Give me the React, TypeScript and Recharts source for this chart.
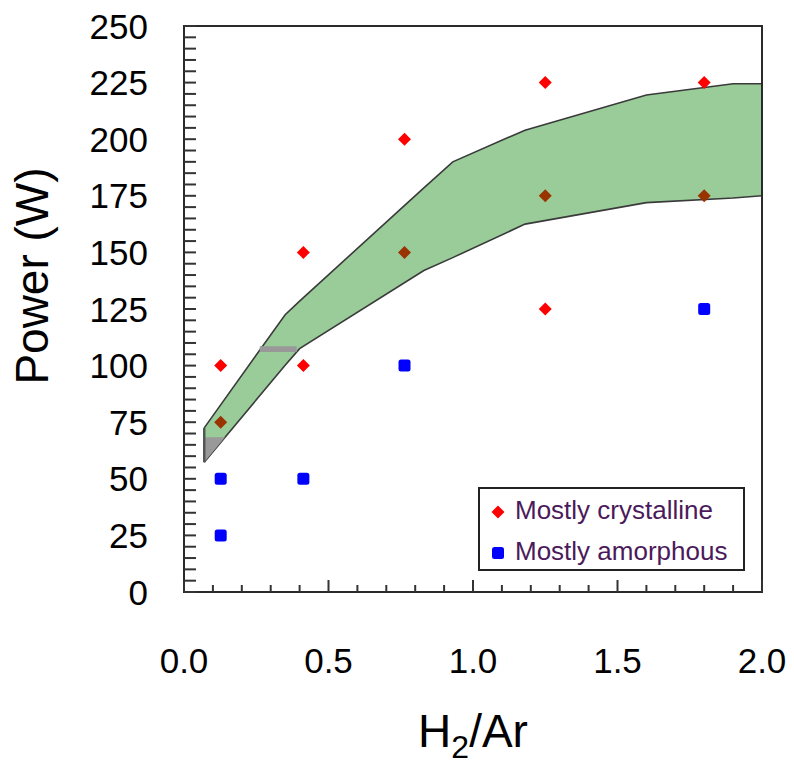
import {
  ComposedChart,
  Area,
  Scatter,
  XAxis,
  YAxis,
  ReferenceArea,
  ReferenceLine,
  Legend,
} from "recharts";

const FONT = "'Liberation Sans', Arial, sans-serif";

// process window (band)
const bandX = [0.07, 0.35, 0.4, 0.83, 0.93, 1.18, 1.6, 1.9, 2.0];
const bandHigh = [72.5, 122.5, 128.5, 178.5, 190, 204, 219.5, 224.5, 224.5];
const bandLow = [57.3, 100.2, 107.5, 142, 147.7, 162.5, 172, 174, 175];

// small grey patches inside the band (drawing artefacts in the original)
const patchLeftX = [0.07, 0.142];
const patchLeftLow = [57.3, 68.3];
const patchLeftHigh = [68.3, 68.3];
const stripeX = [0.262, 0.39];
const stripeLow = [106, 106];
const stripeHigh = [108.6, 108.6];

// measurements
const crystalline = [
  { x: 0.127, y: 100 },
  { x: 0.413, y: 150 },
  { x: 0.413, y: 100 },
  { x: 0.763, y: 200 },
  { x: 1.25, y: 225 },
  { x: 1.25, y: 125 },
  { x: 1.8, y: 225 },
];
const crystallineInBand = [
  { x: 0.127, y: 75 },
  { x: 0.763, y: 150 },
  { x: 1.25, y: 175 },
  { x: 1.8, y: 175 },
];
const amorphous = [
  { x: 0.127, y: 50 },
  { x: 0.127, y: 25 },
  { x: 0.413, y: 50 },
  { x: 0.763, y: 100 },
  { x: 1.8, y: 125 },
];

const xTicks = [
  0, 0.1, 0.2, 0.3, 0.4, 0.5, 0.6, 0.7, 0.8, 0.9, 1.0, 1.1, 1.2, 1.3, 1.4,
  1.5, 1.6, 1.7, 1.8, 1.9, 2.0,
];
const xLabels = ["0.0", "0.5", "1.0", "1.5", "2.0"];
const yLabels = [0, 25, 50, 75, 100, 125, 150, 175, 200, 225, 250];
const yTicks = Array.from({ length: 51 }, (_, i) => i * 5);

const bandData = bandX.map((x, i) => ({ x, range: [bandLow[i], bandHigh[i]] }));
const patchLeftData = patchLeftX.map((x, i) => ({
  x,
  range: [patchLeftLow[i], patchLeftHigh[i]],
}));
const stripeData = stripeX.map((x, i) => ({
  x,
  range: [stripeLow[i], stripeHigh[i]],
}));

const Diamond = (props: any) => {
  const { cx, cy, fill } = props;
  const r = 6.5;
  return (
    <polygon
      points={`${cx},${cy - r} ${cx + r},${cy} ${cx},${cy + r} ${cx - r},${cy}`}
      fill={fill}
    />
  );
};

const Square = (props: any) => {
  const { cx, cy, fill } = props;
  return <rect x={cx - 6} y={cy - 6} width={12} height={12} rx={2.5} fill={fill} />;
};

const YTick = (props: any) => {
  const { x, y, payload } = props;
  const v = payload.value;
  const isMajor = yLabels.includes(v);
  return (
    <g>
      <line x1={x} x2={x + 12} y1={y} y2={y} stroke="#333" strokeWidth={2} />
      {isMajor && (
        <text
          x={x - 36}
          y={y}
          dy="0.36em"
          textAnchor="end"
          fontFamily={FONT}
          fontSize={35}
          fill="#000"
        >
          {v}
        </text>
      )}
    </g>
  );
};

const XTick = (props: any) => {
  const { x, y, payload } = props;
  const v = payload.value;
  const label = xLabels.find((l) => Math.abs(parseFloat(l) - v) < 1e-6);
  return (
    <g>
      <line x1={x} x2={x} y1={y} y2={y - (label ? 12 : 7)} stroke="#333" strokeWidth={2} />
      {label && (
        <text
          x={x}
          y={y + 81}
          textAnchor="middle"
          fontFamily={FONT}
          fontSize={35}
          fill="#000"
        >
          {label}
        </text>
      )}
    </g>
  );
};

const YTitle = (props: any) => {
  const { viewBox } = props;
  const cx = viewBox.x + 32;
  const cy = viewBox.y + viewBox.height / 2 - 33;
  return (
    <text
      x={cx}
      y={cy}
      transform={`rotate(-90, ${cx}, ${cy})`}
      textAnchor="middle"
      dominantBaseline="central"
      fontFamily={FONT}
      fontSize={46}
      fill="#000"
    >
      Power (W)
    </text>
  );
};

const XTitle = (props: any) => {
  const { viewBox } = props;
  return (
    <text
      x={viewBox.x + viewBox.width / 2}
      y={viewBox.y + 155}
      textAnchor="middle"
      fontFamily={FONT}
      fontSize={46}
      fill="#000"
    >
      H
      <tspan fontSize={32} dy={11}>
        2
      </tspan>
      <tspan dy={-11}>/Ar</tspan>
    </text>
  );
};

const LegendBox = () => (
  <div
    style={{
      boxSizing: "border-box",
      width: 267,
      height: 84,
      border: "2px solid #222",
      background: "#fff",
    }}
  >
    <svg width={263} height={80} style={{ display: "block" }}>
      <Diamond cx={18} cy={23} fill="#ff0000" />
      <text x={35} y={30} fontFamily={FONT} fontSize={26} fill="#4b1a5a">
        Mostly crystalline
      </text>
      <Square cx={18} cy={64} fill="#0000ff" />
      <text x={35} y={71} fontFamily={FONT} fontSize={26} fill="#4b1a5a">
        Mostly amorphous
      </text>
    </svg>
  </div>
);

export default function App() {
  return (
    <div style={{ position: "relative", left: -8, top: -8, width: 794, height: 765 }}>
      <ComposedChart
        width={794}
        height={765}
        margin={{ top: 26, right: 32, bottom: 73, left: 0 }}
      >
        <XAxis
          type="number"
          dataKey="x"
          domain={[0, 2]}
          ticks={xTicks}
          interval={0}
          allowDataOverflow
          height={100}
          tickSize={0}
          tickMargin={0}
          tickLine={false}
          axisLine={false}
          tick={<XTick />}
          label={<XTitle />}
        />
        <YAxis
          type="number"
          domain={[0, 250]}
          ticks={yTicks}
          interval={0}
          allowDataOverflow
          width={184}
          tickSize={0}
          tickMargin={0}
          tickLine={false}
          axisLine={false}
          tick={<YTick />}
          label={<YTitle />}
        />
        <Area
          data={bandData}
          dataKey="range"
          type="linear"
          fill="#99cc99"
          fillOpacity={1}
          stroke="#3a3a3a"
          strokeWidth={1.6}
          isAnimationActive={false}
          legendType="none"
        />
        <Area
          data={patchLeftData}
          dataKey="range"
          type="linear"
          fill="#999999"
          fillOpacity={1}
          stroke="none"
          isAnimationActive={false}
          legendType="none"
        />
        <Area
          data={stripeData}
          dataKey="range"
          type="linear"
          fill="#999999"
          fillOpacity={1}
          stroke="none"
          isAnimationActive={false}
          legendType="none"
        />
        <ReferenceLine
          segment={[
            { x: bandX[0], y: bandLow[0] },
            { x: bandX[0], y: bandHigh[0] },
          ]}
          stroke="#555"
          strokeWidth={2.5}
        />
        <Scatter
          data={crystalline}
          dataKey="y"
          fill="#ff0000"
          shape={<Diamond />}
          isAnimationActive={false}
        />
        <Scatter
          data={crystallineInBand}
          dataKey="y"
          fill="#993300"
          shape={<Diamond />}
          isAnimationActive={false}
          legendType="none"
        />
        <Scatter
          data={amorphous}
          dataKey="y"
          fill="#0000ff"
          shape={<Square />}
          isAnimationActive={false}
        />
        <ReferenceArea
          x1={0}
          x2={2}
          y1={0}
          y2={250}
          fill="none"
          stroke="#2a2a2a"
          strokeWidth={2}
        />
        <Legend
          layout="vertical"
          align="center"
          verticalAlign="middle"
          wrapperStyle={{ position: "absolute", left: 478, top: 487, width: 267 }}
          content={<LegendBox />}
        />
      </ComposedChart>
    </div>
  );
}
